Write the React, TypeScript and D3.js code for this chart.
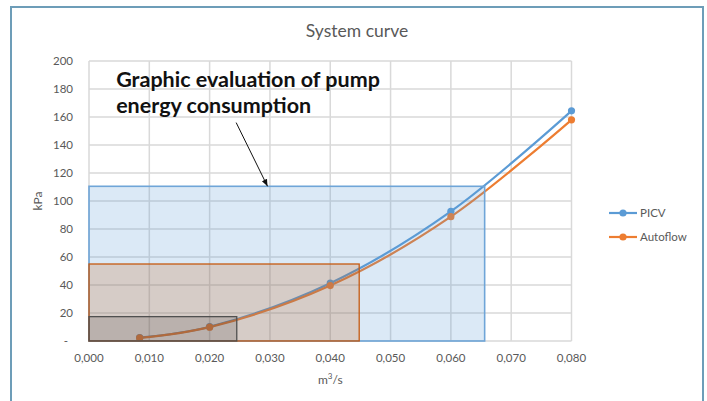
import React, { useRef, useEffect } from 'react';
import * as d3 from 'd3';

// flow (m3/s) and head (kPa)
const flowPoints = [0.0084, 0.02, 0.04, 0.06, 0.08];
const picvKpa = [2.4, 10.2, 41.3, 92.6, 164.4];
const autoflowKpa = [2.2, 9.9, 39.6, 88.8, 158.0];

const seriesNames = ['PICV', 'Autoflow'];
const seriesColors = ['#5B9BD5', '#ED7D31'];

const xTicks = [0, 0.01, 0.02, 0.03, 0.04, 0.05, 0.06, 0.07, 0.08];
const yTicks = [0, 20, 40, 60, 80, 100, 120, 140, 160, 180, 200];

// energy rectangles: flow extent and head
const areaFlows = [0.0656, 0.0448, 0.0245];
const areaHeads = [110.5, 55, 17.4];
const areaFills = ['rgba(91,155,213,0.22)', 'rgba(197,90,17,0.2)', 'rgba(0,0,0,0.13)'];
const areaStrokes = ['#6FA5D8', '#C55A11', '#505050'];

const noteLines = ['Graphic evaluation of pump', 'energy consumption'];
const noteAnchor = [0.0045, 181.5];
const arrowFrom = [0.0244, 156];
const arrowTo = [0.0296, 110.5];

const W = 707;
const H = 401;
const FONT = 'Lato, "Open Sans", sans-serif';

const App: React.FC = () => {
  const svgRef = useRef<SVGSVGElement | null>(null);

  useEffect(() => {
    document.body.style.margin = '0';
    if (!svgRef.current) return;
    const svg = d3.select(svgRef.current);
    svg.selectAll('*').remove();

    const left = 89, right = 571.5, top = 61, bottom = 341;

    const x = d3.scaleLinear().domain([0, 0.08]).range([left, right]);
    const y = d3.scaleLinear().domain([0, 200]).range([bottom, top]);

    svg.append('rect')
      .attr('x', 0).attr('y', 0).attr('width', W).attr('height', H)
      .attr('fill', '#fff');

    // chart border
    svg.append('path')
      .attr('d', `M11,${H + 5} L11,7 L703,7 L703,${H + 5}`)
      .attr('fill', 'none')
      .attr('stroke', '#6D9DB8')
      .attr('stroke-width', 2);

    svg.append('text')
      .attr('x', 357).attr('y', 37)
      .attr('text-anchor', 'middle')
      .style('font-family', FONT)
      .style('font-size', '17.5px')
      .attr('fill', '#595959')
      .text('System curve');

    // gridlines
    const grid = svg.append('g');
    grid.selectAll('.hg')
      .data(yTicks)
      .enter().append('line')
      .attr('x1', left).attr('x2', right)
      .attr('y1', d => y(d)).attr('y2', d => y(d))
      .attr('stroke', '#D9D9D9').attr('stroke-width', 1.5);
    grid.selectAll('.vg')
      .data(xTicks)
      .enter().append('line')
      .attr('x1', d => x(d)).attr('x2', d => x(d))
      .attr('y1', top).attr('y2', bottom)
      .attr('stroke', '#D9D9D9').attr('stroke-width', 1.5);

    // axis labels
    svg.append('g').selectAll('text')
      .data(yTicks)
      .enter().append('text')
      .attr('x', d => (d === 0 ? 68 : 73))
      .attr('y', d => y(d) + 4)
      .attr('text-anchor', 'end')
      .style('font-family', FONT)
      .style('font-size', '11.5px')
      .attr('fill', '#595959')
      .text(d => (d === 0 ? '-' : String(d)));

    const fmtX = d3.format('.3f');
    svg.append('g').selectAll('text')
      .data(xTicks)
      .enter().append('text')
      .attr('x', d => x(d))
      .attr('y', 362)
      .attr('text-anchor', 'middle')
      .style('font-family', FONT)
      .style('font-size', '11.5px')
      .attr('fill', '#595959')
      .text(d => fmtX(d).replace('.', ','));

    const xTitle = svg.append('text')
      .attr('x', (left + right) / 2).attr('y', 384)
      .attr('text-anchor', 'middle')
      .style('font-family', FONT)
      .style('font-size', '12px')
      .attr('fill', '#595959');
    xTitle.append('tspan').text('m');
    xTitle.append('tspan').attr('dy', -5).style('font-size', '8px').text('3');
    xTitle.append('tspan').attr('dy', 5).text('/s');

    svg.append('text')
      .attr('transform', `translate(42, ${(top + bottom) / 2}) rotate(-90)`)
      .attr('text-anchor', 'middle')
      .style('font-family', FONT)
      .style('font-size', '12px')
      .attr('fill', '#595959')
      .text('kPa');

    // series
    const allSeries = [picvKpa, autoflowKpa];
    const line = d3.line<[number, number]>()
      .x(d => x(d[0]))
      .y(d => y(d[1]))
      .curve(d3.curveCatmullRom.alpha(0.5));

    allSeries.forEach((vals, i) => {
      const pts = flowPoints.map((f, j) => [f, vals[j]] as [number, number]);
      svg.append('path')
        .datum(pts)
        .attr('d', line)
        .attr('fill', 'none')
        .attr('stroke', seriesColors[i])
        .attr('stroke-width', 2.2);
    });
    allSeries.forEach((vals, i) => {
      svg.append('g').selectAll('circle')
        .data(flowPoints.map((f, j) => [f, vals[j]]))
        .enter().append('circle')
        .attr('cx', d => x(d[0]))
        .attr('cy', d => y(d[1]))
        .attr('r', 3.6)
        .attr('fill', seriesColors[i]);
    });

    // energy rectangles
    svg.append('g').selectAll('rect')
      .data(areaFlows.map((f, i) => ({ f, h: areaHeads[i], i })))
      .enter().append('rect')
      .attr('x', x(0))
      .attr('y', d => y(d.h))
      .attr('width', d => x(d.f) - x(0))
      .attr('height', d => y(0) - y(d.h))
      .attr('fill', d => areaFills[d.i])
      .attr('stroke', d => areaStrokes[d.i])
      .attr('stroke-width', d => (d.i === 0 ? 1.6 : 1.3));

    // annotation
    const note = svg.append('text')
      .attr('x', x(noteAnchor[0]))
      .attr('y', y(noteAnchor[1]))
      .style('font-family', 'Lato, sans-serif')
      .style('font-size', '21.5px')
      .style('font-weight', 'bold')
      .attr('fill', '#111');
    noteLines.forEach((t, i) => {
      note.append('tspan')
        .attr('x', x(noteAnchor[0]))
        .attr('dy', i === 0 ? 0 : 26.5)
        .text(t);
    });

    svg.append('defs').append('marker')
      .attr('id', 'arrowhead')
      .attr('viewBox', '0 0 10 10')
      .attr('refX', 10).attr('refY', 5)
      .attr('markerWidth', 7).attr('markerHeight', 7)
      .attr('orient', 'auto')
      .append('path')
      .attr('d', 'M0,1 L10,5 L0,9 Z')
      .attr('fill', '#111');

    svg.append('line')
      .attr('x1', x(arrowFrom[0])).attr('y1', y(arrowFrom[1]))
      .attr('x2', x(arrowTo[0])).attr('y2', y(arrowTo[1]))
      .attr('stroke', '#111')
      .attr('stroke-width', 1)
      .attr('marker-end', 'url(#arrowhead)');

    // legend
    const legend = svg.append('g');
    seriesNames.forEach((name, i) => {
      const ly = 213 + i * 24;
      legend.append('line')
        .attr('x1', 609).attr('x2', 637)
        .attr('y1', ly).attr('y2', ly)
        .attr('stroke', seriesColors[i]).attr('stroke-width', 2.2);
      legend.append('circle')
        .attr('cx', 623).attr('cy', ly).attr('r', 3.6)
        .attr('fill', seriesColors[i]);
      legend.append('text')
        .attr('x', 640).attr('y', ly + 4)
        .style('font-family', FONT)
        .style('font-size', '11.5px')
        .attr('fill', '#595959')
        .text(name);
    });
  }, []);

  return <svg ref={svgRef} width={W} height={H} style={{ display: 'block' }}></svg>;
};

export default App;
